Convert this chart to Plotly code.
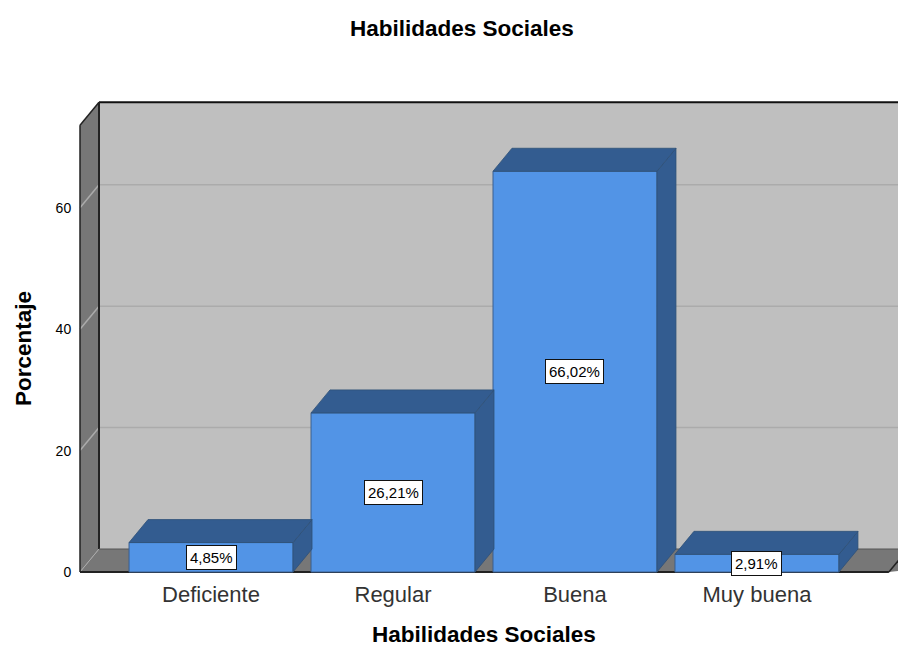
import plotly.graph_objects as go

categories = ["Deficiente", "Regular", "Buena", "Muy buena"]
values = [4.85, 26.21, 66.02, 2.91]
y_ticks = [0, 20, 40, 60]

# pseudo-3D geometry, in axis units
DX = 19 / 182
DY = 23 / 6.07
BAR_W = 164 / 182
X_MIN, X_MAX = -0.731, 3.775
Y_MIN, Y_MAX = -0.33, 77.76
WALL_TOP = 73.6 + DY
FRONT_RIGHT = 3.725

BLUE = "#5294E6"
DARK = "#335C90"
WALL = "#BFBFBF"
SIDE = "#777777"
GRID = "#ABABAB"

L, T, R, B = 78, 100, 898, 574
def px_x(p):
    return (p - L) / (R - L)
def px_y(p):
    return (B - p) / (B - T)

xs = list(range(len(categories)))
labels = [f"{v:.2f}".replace(".", ",") + "%" for v in values]

fig = go.Figure()
shapes = []
def poly(px, py, fill, line="rgba(0,0,0,0)", w=0):
    path = "M " + " L ".join(f"{a},{b}" for a, b in zip(px, py)) + " Z"
    shapes.append(dict(type="path", path=path, xref="x", yref="y", fillcolor=fill,
                       line=dict(color=line, width=w), layer="below"))
def seg(x0, y0, x1, y1, color, w):
    shapes.append(dict(type="line", x0=x0, y0=y0, x1=x1, y1=y1, xref="x", yref="y",
                       line=dict(color=color, width=w), layer="below"))

x_front = X_MIN + 2 / 182
poly([x_front + DX, X_MAX + 1, X_MAX + 1, x_front + DX], [DY, DY, WALL_TOP, WALL_TOP], WALL)
poly([x_front, x_front + DX, x_front + DX, x_front], [0, DY, WALL_TOP, WALL_TOP - DY], SIDE)
poly([x_front, x_front + DX, X_MAX + 1, FRONT_RIGHT], [0, DY, DY, 0], SIDE)
for t in y_ticks[1:]:
    seg(x_front + DX, t + DY, X_MAX + 1, t + DY, GRID, 1.5)
    seg(x_front, t, x_front + DX, t + DY, GRID, 1.5)
seg(x_front, 0, x_front + DX, DY, GRID, 1)
seg(x_front + DX, WALL_TOP, X_MAX + 1, WALL_TOP, "#111111", 2)
seg(x_front + DX, DY, x_front + DX, WALL_TOP, "#222222", 2)
seg(x_front, 0, x_front, WALL_TOP - DY, "#222222", 1.5)
seg(x_front, WALL_TOP - DY, x_front + DX, WALL_TOP, "#222222", 1.5)
seg(x_front + DX, DY, X_MAX + 1, DY, "#555555", 1)
seg(x_front, 0, FRONT_RIGHT, 0, "#222222", 2)
seg(FRONT_RIGHT, 0, FRONT_RIGHT + DX, DY, "#222222", 1.5)

fig.add_trace(go.Bar(x=xs, y=values, width=BAR_W, marker=dict(color=BLUE, line=dict(color="#3A5F8F", width=1)),
                     showlegend=False, hoverinfo="skip"))

for x, v in zip(xs, values):
    l, r = x - BAR_W / 2, x + BAR_W / 2
    fig.add_trace(go.Scatter(x=[r, r + DX, r + DX, r, r], y=[0, DY, v + DY, v, 0], mode="lines", fill="toself",
                             fillcolor=DARK, line=dict(color="#2F5077", width=0.8), showlegend=False, hoverinfo="skip"))
    fig.add_trace(go.Scatter(x=[l, l + DX, r + DX, r, l], y=[v, v + DY, v + DY, v, v], mode="lines", fill="toself",
                             fillcolor=DARK, line=dict(color="#2F5077", width=0.8), showlegend=False, hoverinfo="skip"))

FONT = "Liberation Sans"
annotations = [
    dict(x=x, y=v / 2, xref="x", yref="y", text=t, showarrow=False, bgcolor="white", bordercolor="#111111",
         borderwidth=1, borderpad=3, font=dict(size=15, color="black", family=FONT))
    for x, v, t in zip(xs, values, labels)
]
anchor = dict(xanchor="center", yanchor="middle", xref="paper", yref="paper", showarrow=False)
annotations += [
    dict(x=px_x(462), y=px_y(28), text="<b>Habilidades Sociales</b>", font=dict(size=22.5, color="black", family=FONT), **anchor),
    dict(x=px_x(484), y=px_y(634), text="<b>Habilidades Sociales</b>", font=dict(size=22.5, color="black", family=FONT), **anchor),
    dict(x=px_x(23), y=px_y(349), text="<b>Porcentaje</b>", textangle=-90, font=dict(size=22.5, color="black", family=FONT), **anchor),
]

fig.update_layout(
    width=898, height=648, autosize=False,
    margin=dict(l=L, r=898 - R, t=T, b=648 - B),
    paper_bgcolor="white", plot_bgcolor="white",
    shapes=shapes, annotations=annotations, showlegend=False,
    xaxis=dict(range=[X_MIN, X_MAX], tickvals=xs, ticktext=categories, showgrid=False, zeroline=False, showline=False,
               ticks="outside", ticklen=1, tickcolor="white", tickfont=dict(size=22, color="#333333", family=FONT)),
    yaxis=dict(range=[Y_MIN, Y_MAX], tickvals=y_ticks, showgrid=False, zeroline=False, showline=False,
               ticks="outside", ticklen=3, tickcolor="white", tickfont=dict(size=14, color="black", family=FONT)),
)
fig.write_html("out.html", config={"displayModeBar": False}, post_script="document.body.style.margin='0';")
